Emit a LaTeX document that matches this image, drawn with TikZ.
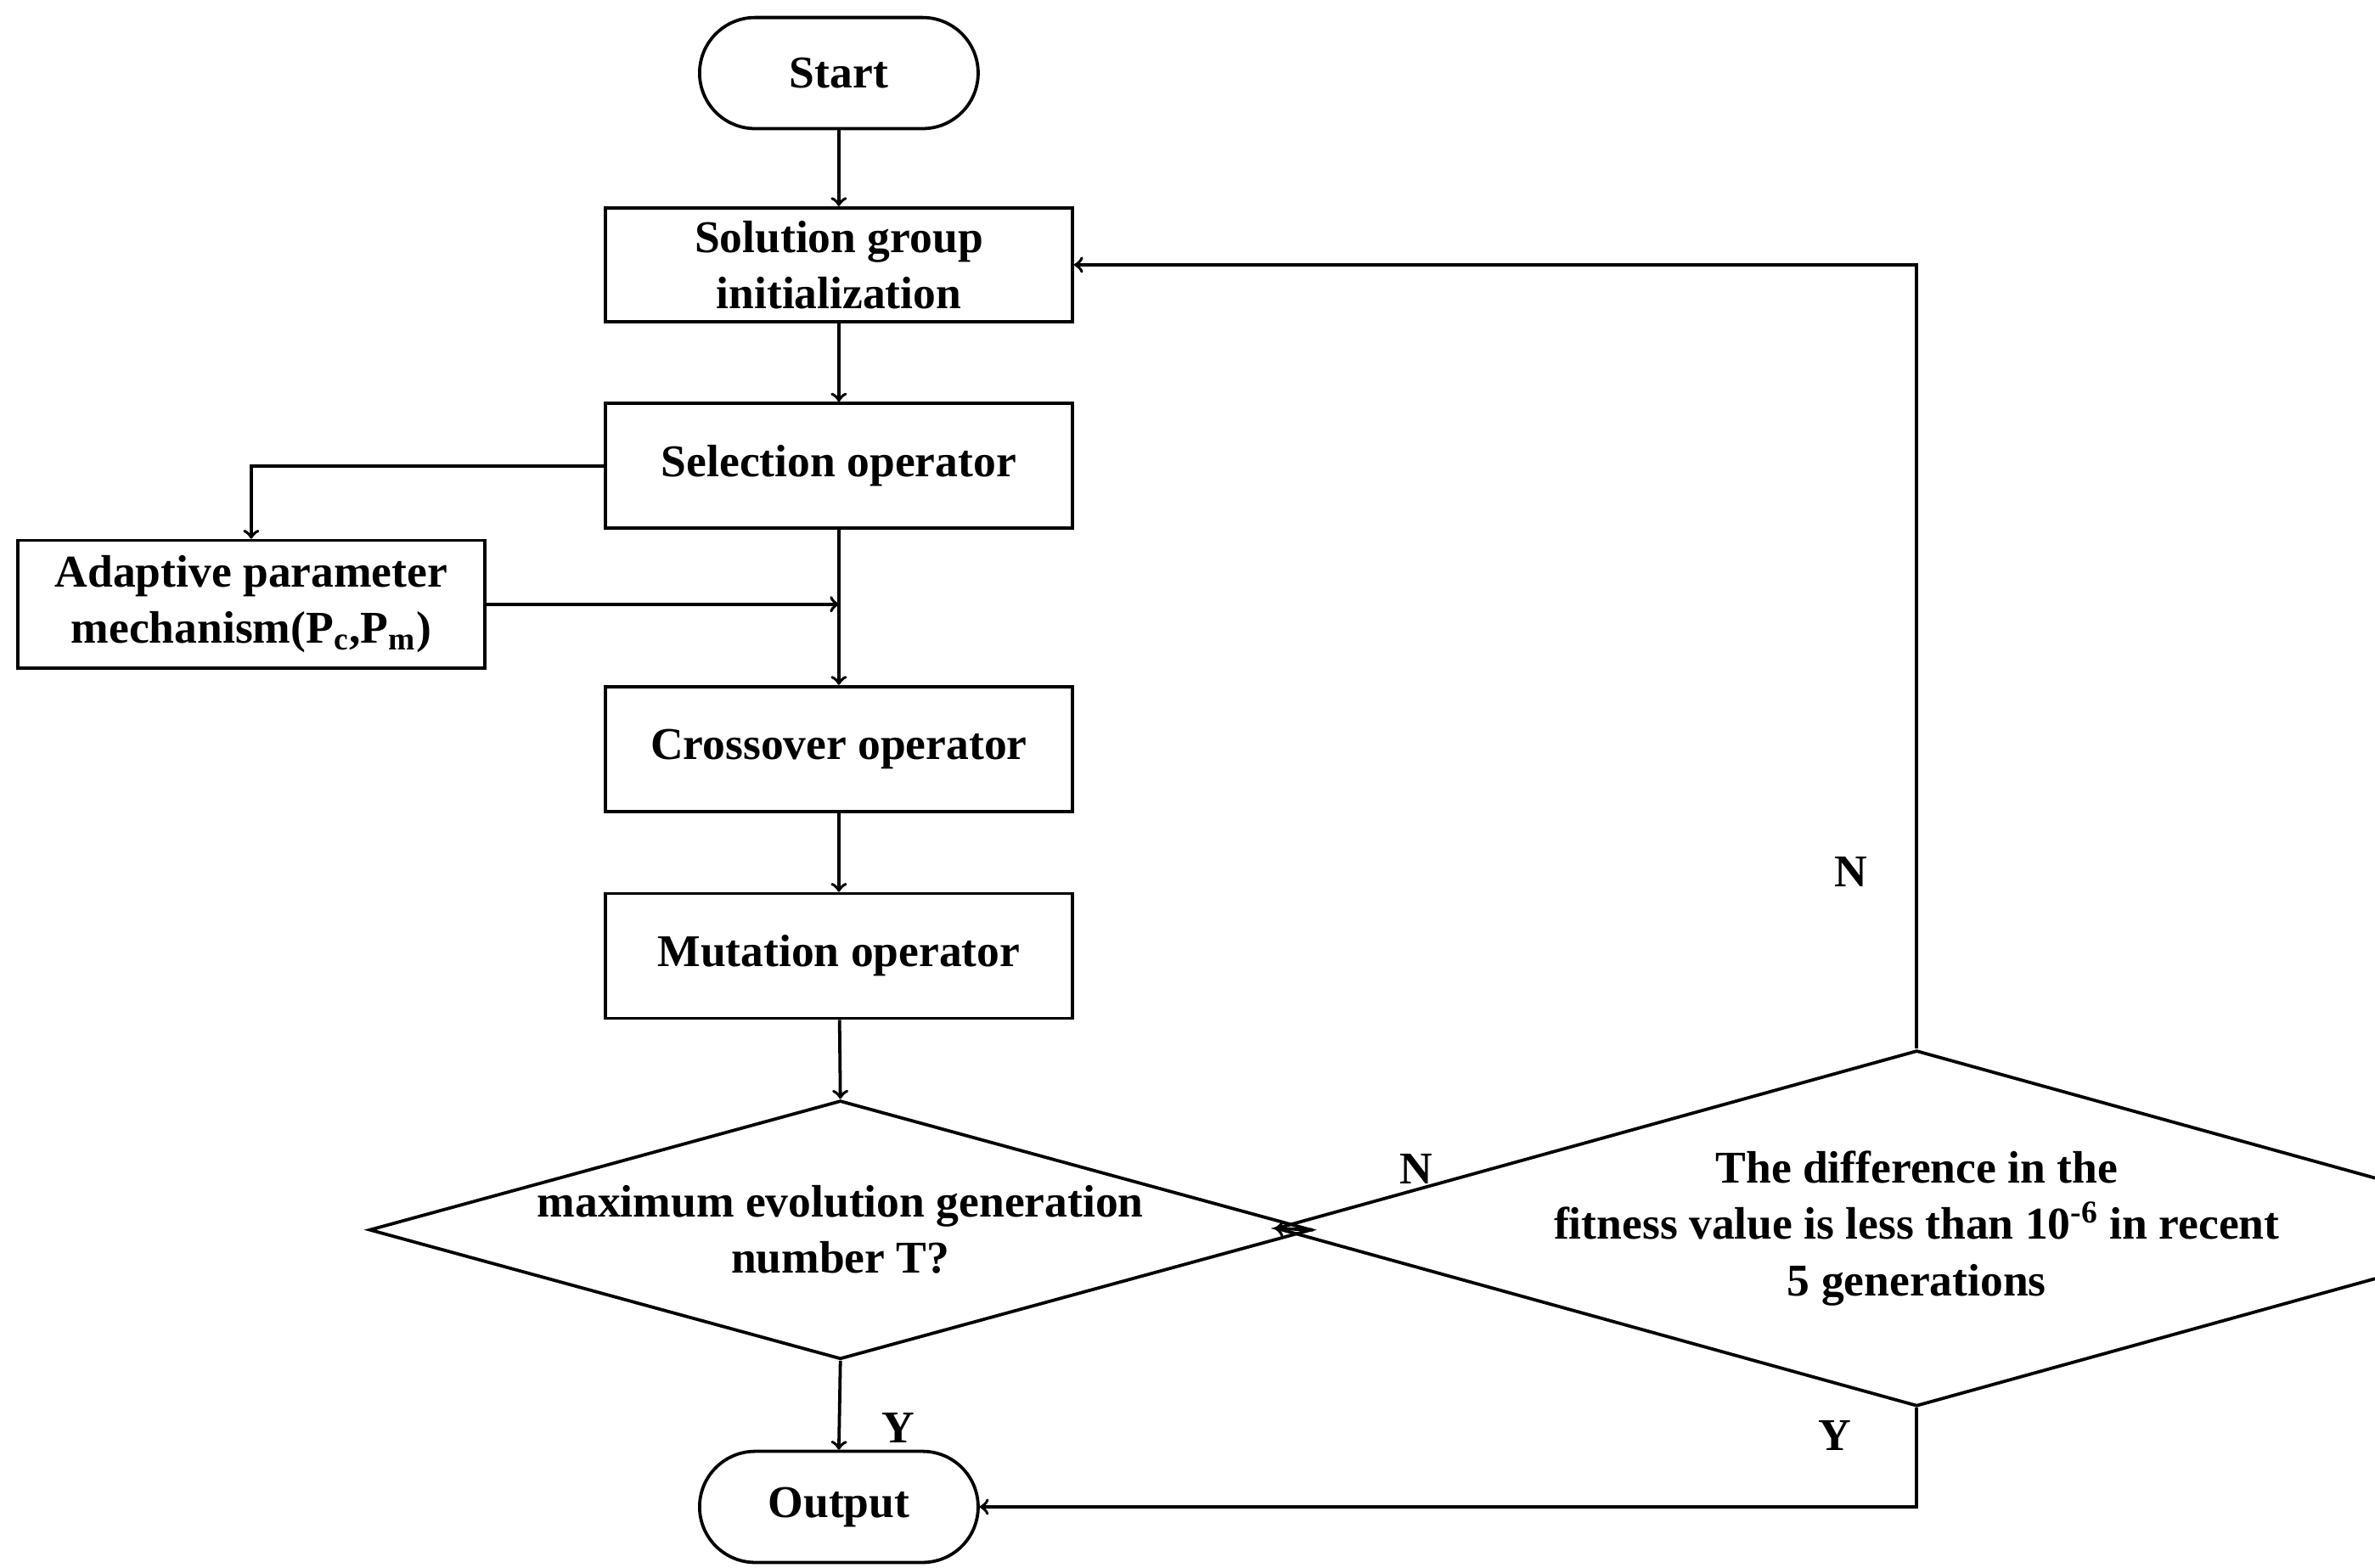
\documentclass[tikz,border=0pt]{standalone}
\usepackage{fontspec}
\setmainfont{Liberation Serif}
\usetikzlibrary{positioning}
\usetikzlibrary{shapes.geometric}

\begin{document}
\begin{tikzpicture}[x=0.02cm,y=-0.02cm,
  box/.style={align=center,draw,line width=1.2pt,minimum height=1.5cm,minimum width=6.14cm,font=\fontsize{17}{21}\selectfont\bfseries},
  term/.style={box,rounded corners=0.73cm,minimum width=3.66cm,minimum height=1.46cm},
  dec/.style={diamond,draw,line width=1.2pt,aspect=3.6,inner sep=0pt,align=center,font=\fontsize{17}{21}\selectfont\bfseries},
  arr/.style={->,line width=1.2pt},
  lab/.style={font=\fontsize{17}{21}\selectfont\bfseries}]
  \useasboundingbox (0,0) rectangle (1560,1030);

  \node at (551,48) [term] (start) {Start};
  \node at (551,174) [box] (init) {Solution group\\initialization};
  \node at (551,306) [box,minimum height=1.64cm] (select) {Selection operator};
  \node at (165,397) [box,minimum height=1.68cm] (adapt) {Adaptive parameter\\mechanism(P\textsubscript{c},P\textsubscript{m})};
  \node at (551,492) [box,minimum height=1.64cm] (cross) {Crossover operator};
  \node at (551,628) [box,minimum height=1.64cm] (mutate) {Mutation operator};
  \node at (552,808) [dec,minimum width=12.38cm,minimum height=3.4cm] (maxgen) {maximum evolution generation\\number T?};
  \node at (1259,807) [dec,minimum width=11.84cm,minimum height=3.72cm] (fitness) {The difference in the\\fitness value is less than 10\textsuperscript{-6} in recent\\5 generations};
  \node at (551,990) [term] (output) {Output};

  \coordinate (join) at (adapt.east -| select.south);

  \draw[arr] (start) -- (init);
  \draw[arr] (init) -- (select);
  \draw[line width=1.2pt] (select.south) -- (join);
  \draw[arr] (join) -- (cross);
  \draw[arr] (select.west) -| (adapt.north);
  \draw[arr] (adapt.east) -- (join);
  \draw[arr] (cross) -- (mutate);
  \draw[arr] (mutate) -- (maxgen.north);
  \draw[arr] (maxgen.east) -- (fitness.west);
  \draw[arr] (maxgen.south) -- (output.north);
  \draw[arr] (fitness.north) |- (init.east);
  \draw[arr] (fitness.south) |- (output.east);

  \node at (930,768) [lab] (n1) {N};
  \node at (1216,573) [lab] (n2) {N};
  \node at (590,938) [lab] (y1) {Y};
  \node at (1205,943) [lab] (y2) {Y};
\end{tikzpicture}
\end{document}
